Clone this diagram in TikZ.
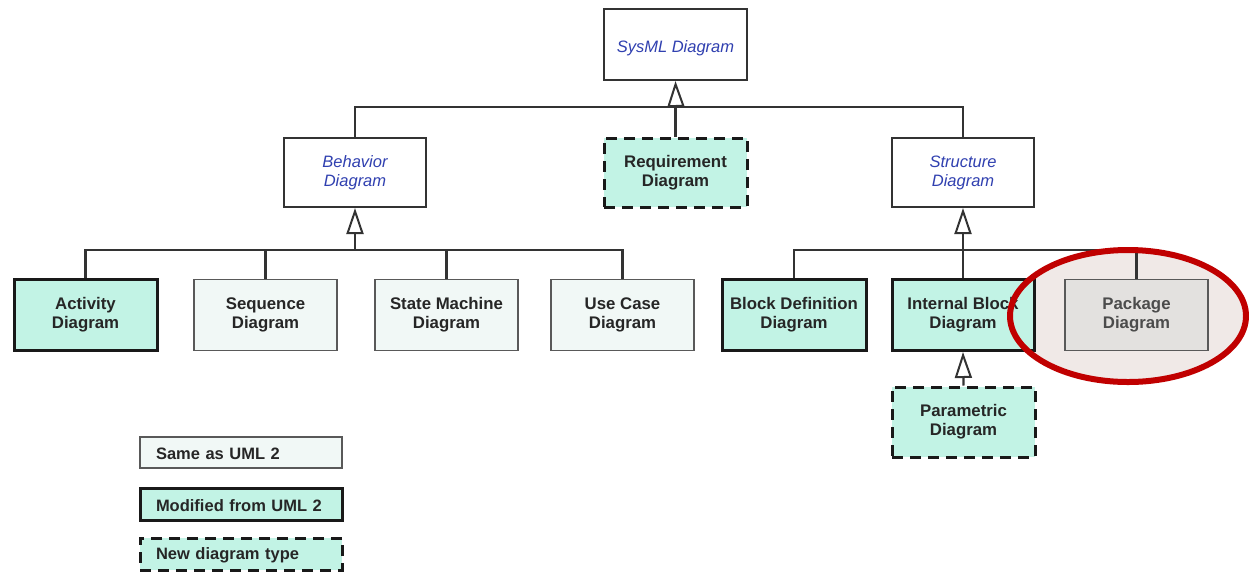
\documentclass[tikz,border=0pt]{standalone}
\usepackage{fontspec}
\setmainfont{Liberation Sans}
\usetikzlibrary{arrows.meta}

\definecolor{modfill}{HTML}{C2F3E5}
\definecolor{samefill}{HTML}{F1F8F6}
\definecolor{pkgfill}{HTML}{E3E1DF}
\definecolor{ringfill}{HTML}{F0E9E7}
\definecolor{ringred}{HTML}{C00000}
\definecolor{absblue}{HTML}{3040B0}
\definecolor{wire}{HTML}{333333}

\tikzset{
  boxbase/.style={minimum width=143pt, minimum height=71pt, inner sep=0pt,
    align=center, text=black!85, font=\bfseries\fontsize{16.8}{19}\selectfont,
    execute at begin node={\rule{0pt}{19pt}}},
  absbox/.style={boxbase, draw=black!80, fill=white, line width=2pt,
    text=absblue, font=\itshape\fontsize{16.5}{19}\selectfont},
  modbox/.style={boxbase, draw=black!90, fill=modfill, line width=3pt},
  samebox/.style={boxbase, draw=black!65, fill=samefill, line width=1.8pt},
  newbox/.style={boxbase, draw=black!90, fill=modfill, line width=3pt,
    dash pattern=on 11pt off 7pt},
  pkgbox/.style={boxbase, draw=black!65, fill=pkgfill, line width=1.8pt, text=black!70},
  legend/.style={minimum height=31pt, inner xsep=16pt, inner ysep=0pt,
    text width=170pt, align=left, text=black!85, font=\bfseries\fontsize{16.5}{19}\selectfont,
    execute at begin node={\rule{0pt}{15pt}}},
  wireline/.style={draw=wire, line width=2.2pt},
  gen/.style={wireline, -{Triangle[open, length=26pt, width=17pt, line width=2pt]}},
}

\begin{document}
\begin{tikzpicture}[x=1pt, y=-1pt]
\useasboundingbox (0,0) rectangle (1249,574);

% highlight ring: fill lies behind the diagram
\fill[ringfill] (1128,316) ellipse [x radius=118, y radius=66];

% abstract diagram kinds
\node[absbox] (sysml)  at (675.5,44.5) {SysML Diagram};
\node[absbox, minimum width=142pt, minimum height=69pt] (behav)  at (355,172.5) {Behavior\\Diagram};
\node[newbox, minimum height=69pt] (req) at (675.5,172.5) {Requirement\\Diagram};
\node[absbox, minimum width=142pt, minimum height=69pt] (struct) at (963,172.5) {Structure\\Diagram};

% concrete diagram kinds
\node[modbox]  (act) at (85.5,315)  {Activity\\Diagram};
\node[samebox] (seq) at (265.5,315) {Sequence\\Diagram};
\node[samebox] (stm) at (446.5,315) {State Machine\\Diagram};
\node[samebox] (uc)  at (622.5,315) {Use Case\\Diagram};
\node[modbox, minimum width=144pt] (bdd) at (794,315) {Block Definition\\Diagram};
\node[modbox, minimum width=142pt] (ibd) at (963,315) {Internal Block\\Diagram};
\node[pkgbox]  (pkg) at (1136.5,315) {Package\\Diagram};
\node[newbox, minimum height=70pt] (par) at (963.5,422) {Parametric\\Diagram};

% bus junctions
\coordinate (b0) at (676,107);
\coordinate (b1) at (355,250);
\coordinate (b2) at (963,250);

% generalisation trees
\draw[wireline] (behav.north) |- (b0) -| (struct.north);
\draw[wireline] (req.north) -- (req.north |- b0);
\draw[gen] (b0) -- (sysml.south);

\draw[wireline] (act.north) |- (b1) -| (uc.north);
\draw[wireline] (seq.north) -- (seq.north |- b1);
\draw[wireline] (stm.north) -- (stm.north |- b1);
\draw[gen] (b1) -- (behav.south);

\draw[wireline] (bdd.north) |- (b2) -| (pkg.north);
\draw[wireline, line width=2.6pt] (ibd.north) -- (b2);
\draw[gen] (b2) -- (struct.south);

\draw[gen] (par.north) -- (ibd.south);

% redraw boxes over the wires they meet
\node[modbox, minimum width=142pt] at (ibd) {Internal Block\\Diagram};
\node[pkgbox] at (pkg) {Package\\Diagram};

% highlight ring outline
\draw[ringred, line width=6pt] (1128,316) ellipse [x radius=118, y radius=66];

% legend
\node[legend, draw=black!65, fill=samefill, line width=1.8pt] (lsame) at (241,452.5) {Same as UML 2};
\node[legend, draw=black!90, fill=modfill, line width=3pt, minimum height=32pt] (lmod) at (241,504) {Modified from UML 2};
\node[legend, draw=black!90, fill=modfill, line width=3pt, dash pattern=on 11pt off 7pt, minimum height=32pt] (lnew) at (241,554) {New diagram type};
\end{tikzpicture}
\end{document}
